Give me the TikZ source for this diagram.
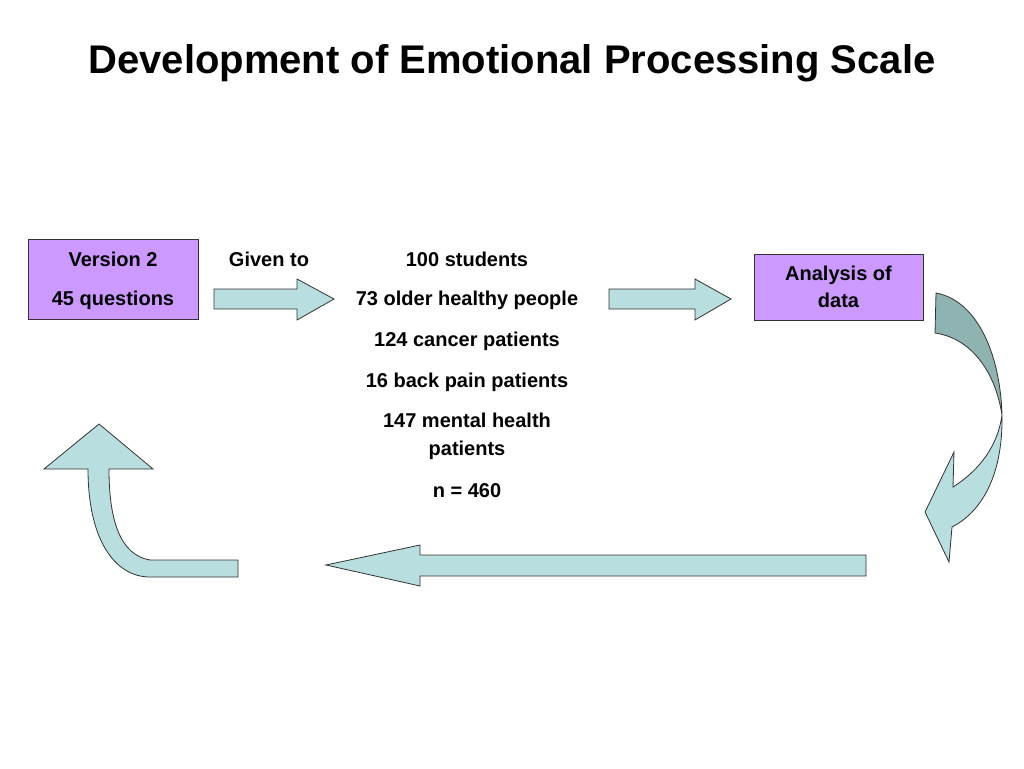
\documentclass[tikz,border=0pt]{standalone}
\usepackage{fontspec}
\setmainfont{Liberation Sans}
\begin{document}
\begin{tikzpicture}[x=0.75pt,y=-0.75pt,
  box/.style={draw=black!80,fill=boxc,line width=0.6pt},
  arr/.style={draw=black!80,fill=arrc,line width=0.6pt,line join=miter},
  txt/.style={font=\bfseries\fontsize{15}{18}\selectfont,align=center,inner sep=0pt}]
\definecolor{boxc}{HTML}{CC99FF}
\definecolor{arrc}{HTML}{B8DEE0}
\definecolor{arrd}{HTML}{8FB3B0}
\useasboundingbox (0,0) rectangle (1024,768);
\node[font=\bfseries\fontsize{30}{36}\selectfont] (title) at (512,63) {Development of Emotional Processing Scale};
\node[box,minimum width=127.5pt,minimum height=60pt] (v2) at (113,279) {};
\node[txt] (v2a) at (113,259) {Version 2};
\node[txt] (v2b) at (113,300) {45 questions};
\node[box,minimum width=126.75pt,minimum height=49.5pt] (an) at (838.5,287) {};
\node[txt] (ana) at (838.5,287) {Analysis of\\[2pt]data};
\node[txt] (g) at (269,259) {Given to};
\node[txt] (l1) at (467,259) {100 students};
\node[txt] (l2) at (467,300) {73 older healthy people};
\node[txt] (l3) at (467,341) {124 cancer patients};
\node[txt] (l4) at (467,382) {16 back pain patients};
\node[txt] (l5) at (467,436) {147 mental health\\[3pt]patients};
\node[txt] (l6) at (467,491) {n = 460};
% straight arrows
\draw[arr] (214,289) -- (297,289) -- (297,279) -- (334,299) -- (297,320) -- (297,309) -- (214,309) -- cycle;
\draw[arr] (609,289) -- (695,289) -- (695,279) -- (731,299) -- (695,320) -- (695,309) -- (609,309) -- cycle;
\draw[arr] (866,555) -- (420,555) -- (420,545) -- (326,565) -- (420,586) -- (420,576) -- (866,576) -- cycle;
% bent-up arrow
\draw[arr] (238,560) -- (150,560) .. controls (120,555) and (109,520) .. (109,469) -- (153,469) -- (99,424) -- (44,469) -- (88,469) .. controls (88,540) and (115,577) .. (150,577) -- (238,577) -- cycle;
% curved down arrow
\draw[arr,fill=arrd] (936,293) .. controls (975,300) and (1000,350) .. (1002,415) .. controls (995,370) and (970,338) .. (935,333) -- cycle;
\draw[arr] (1002,415) .. controls (1003,470) and (985,510) .. (952,527) -- (949,562) -- (925,512) -- (954,452) -- (953,487) .. controls (980,470) and (998,445) .. (1002,415) -- cycle;
\end{tikzpicture}
\end{document}
